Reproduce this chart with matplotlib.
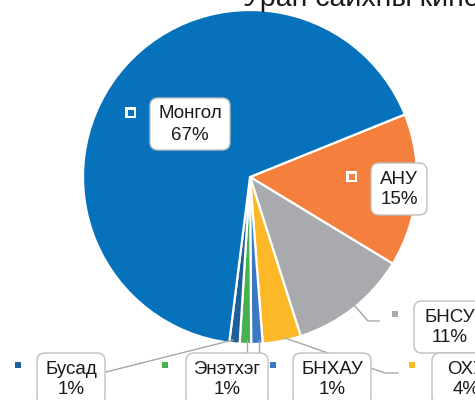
import matplotlib.pyplot as plt
from matplotlib.patches import FancyBboxPatch, Rectangle

plt.rcParams['font.family'] = ['Liberation Sans', 'DejaVu Sans']

# өгөгдөл (зурагт харагдах дарааллаар, цагийн зүүний дагуу)
countries = ['АНУ', 'БНСУ', 'ОХУ', 'БНХАУ', 'Энэтхэг', 'Бусад', 'Монгол']
shares = [14.8, 11.4, 3.7, 1.1, 1.1, 1.0, 66.9]
colors = ['#F57F3C', '#A8AAAD', '#FDB827', '#3B78C3', '#46B14E', '#1F609A', '#0672BC']
title = 'Уран сайхны кино'

W, H = 475, 400

def fy(y):
    # пикселийн y-г доороос эхлэх координат руу
    return H - y

fig = plt.figure(figsize=(4.75, 4.0), dpi=100)
ax = fig.add_axes([0, 0, 1, 1])
ax.set_xlim(0, W)
ax.set_ylim(0, H)
ax.set_aspect('equal')
ax.axis('off')

ax.pie(shares, colors=colors, startangle=22, counterclock=False,
       center=(250, fy(177)), radius=167,
       wedgeprops=dict(edgecolor='white', linewidth=1.6))
ax.set_xlim(0, W)
ax.set_ylim(0, H)

ax.text(243, fy(6), title, fontsize=20.5, color='#1a1a1a', ha='left', va='baseline')

# тайлбарын холбох шугам
line_c = '#A6A6A6'
leaders = {
    'Бусад': [(233, 340), (106, 372)],
    'Энэтхэг': [(247, 340), (247, 352)],
    'БНХАУ': [(259, 340), (259, 352)],
    'ОХУ': [(285, 338), (385, 373), (398, 373)],
    'БНСУ': [(354, 305), (368, 321), (379, 321)],
}
for name, pts in leaders.items():
    ax.plot([p[0] for p in pts], [fy(p[1]) for p in pts], color=line_c, lw=1.0, zorder=3)

# шошго: хайрцаг (x0, y0, w, h), тэмдэг (cx, cy, цагаан хүрээтэй эсэх)
boxes = {
    'Монгол': (150, 98, 80, 52),
    'АНУ': (371, 163, 56, 52),
    'БНСУ': (414, 301, 72, 52),
    'Бусад': (37, 353, 68, 52),
    'Энэтхэг': (186, 353, 82, 52),
    'БНХАУ': (293, 353, 78, 52),
    'ОХУ': (432, 353, 68, 52),
}
keys = {
    'Монгол': (130.5, 112.5, True),
    'АНУ': (351.5, 176.5, True),
    'БНСУ': (395, 313.5, False),
    'Бусад': (18, 365, False),
    'Энэтхэг': (165, 365, False),
    'БНХАУ': (273, 365, False),
    'ОХУ': (412, 365, False),
}

for name, share, col in zip(countries, shares, colors):
    x0, y0, w, h = boxes[name]
    box = FancyBboxPatch((x0, fy(y0 + h)), w, h,
                         boxstyle='round,pad=0,rounding_size=8',
                         facecolor='white', edgecolor='#BFBFBF', lw=1.0, zorder=4)
    ax.add_patch(box)
    cx = x0 + w / 2
    ax.text(cx, fy(y0 + 16), name, fontsize=13.5, color='#1a1a1a',
            ha='center', va='center', zorder=5)
    ax.text(cx, fy(y0 + 37), f'{round(share)}%', fontsize=13.5, color='#1a1a1a',
            ha='center', va='center', zorder=5)

    kx, ky, framed = keys[name]
    if framed:
        ax.add_patch(Rectangle((kx - 5.5, fy(ky + 5.5)), 11, 11, facecolor='white',
                               edgecolor='none', zorder=4))
    ax.add_patch(Rectangle((kx - 3, fy(ky + 3)), 6, 6, facecolor=col,
                           edgecolor='none', zorder=5))

plt.savefig('out.png', dpi=100)
